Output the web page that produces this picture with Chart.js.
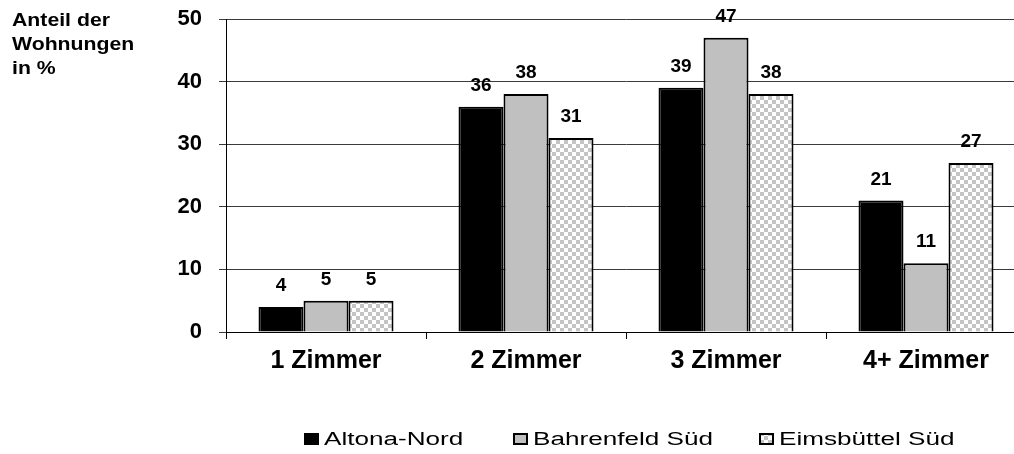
<!DOCTYPE html>
<html lang="de">
<head>
<meta charset="utf-8">
<title>Wohnungsgrößen</title>
<script src="https://cdn.jsdelivr.net/npm/chart.js@4/dist/chart.umd.min.js"></script>
<style>
  html, body { margin: 0; padding: 0; background: #fff; overflow: hidden; }
  #wrap { position: absolute; left: 0; top: 0; width: 1030px; height: 454px; }
</style>
</head>
<body>
<div id="wrap"><canvas id="chart"></canvas></div>
<script>
// Wohnungen nach Zimmerzahl, Anteil in %
const categories = ['1 Zimmer', '2 Zimmer', '3 Zimmer', '4+ Zimmer'];
const seriesNames = ['Altona-Nord', 'Bahrenfeld Süd', 'Eimsbüttel Süd'];
const altonaNord = [4, 36, 39, 21];
const bahrenfeldSued = [5, 38, 47, 11];
const eimsbuettelSued = [5, 31, 38, 27];
const yTicks = [0, 10, 20, 30, 40, 50];
const titleLines = ['Anteil der', 'Wohnungen', 'in %'];

const FONT = "'Liberation Sans', Arial, sans-serif";

// checkered fill for the third series
function checker() {
  const c = document.createElement('canvas');
  c.width = 8; c.height = 8;
  const g = c.getContext('2d');
  g.fillStyle = '#ffffff';
  g.fillRect(0, 0, 8, 8);
  g.fillStyle = '#c4c4c4';
  g.fillRect(0, 0, 4, 4);
  g.fillRect(4, 4, 4, 4);
  return g.createPattern(c, 'repeat');
}
const checkerFill = checker();
const fills = ['#000000', '#c0c0c0', checkerFill];

// axis caption, top left
const captionPlugin = {
  id: 'caption',
  afterDraw(chart) {
    const ctx = chart.ctx;
    ctx.save();
    ctx.fillStyle = '#000';
    ctx.font = 'bold 18px ' + FONT;
    ctx.textBaseline = 'alphabetic';
    ctx.textAlign = 'left';
    titleLines.forEach((t, i) => {
      ctx.save();
      ctx.translate(12, 26 + i * 24);
      ctx.scale(1.18, 1);
      ctx.fillText(t, 0, 0);
      ctx.restore();
    });
    ctx.restore();
  }
};

// value labels above each bar
const valueLabels = {
  id: 'valueLabels',
  afterDatasetsDraw(chart) {
    const ctx = chart.ctx;
    ctx.save();
    ctx.fillStyle = '#000';
    ctx.font = 'bold 19px ' + FONT;
    ctx.textAlign = 'center';
    ctx.textBaseline = 'alphabetic';
    chart.data.datasets.forEach((ds, di) => {
      chart.getDatasetMeta(di).data.forEach((bar, i) => {
        ctx.fillText(String(ds.data[i]), bar.x, bar.y - 16);
      });
    });
    ctx.restore();
  }
};

// legend row below the axis
const legendRow = {
  id: 'legendRow',
  afterDraw(chart) {
    const ctx = chart.ctx;
    const boxX = [304, 513, 759];
    const boxY = 433, boxW = 15, boxH = 12;
    ctx.save();
    chart.data.datasets.forEach((ds, i) => {
      ctx.fillStyle = ds.backgroundColor;
      ctx.fillRect(boxX[i], boxY, boxW, boxH);
      if (i > 0) {
        ctx.lineWidth = 2;
        ctx.strokeStyle = '#000';
        ctx.strokeRect(boxX[i] + 1, boxY + 1, boxW - 2, boxH - 2);
      }
      ctx.save();
      ctx.fillStyle = '#000';
      ctx.font = '18px ' + FONT;
      ctx.textAlign = 'left';
      ctx.textBaseline = 'alphabetic';
      ctx.translate(boxX[i] + boxW + 5, 445);
      ctx.scale(1.45, 1);
      ctx.fillText(ds.label, 0, 0);
      ctx.restore();
    });
    ctx.restore();
  }
};

new Chart(document.getElementById('chart'), {
  type: 'bar',
  data: {
    labels: categories,
    datasets: [altonaNord, bahrenfeldSued, eimsbuettelSued].map((d, i) => ({
      label: seriesNames[i],
      data: d,
      backgroundColor: fills[i],
      borderColor: '#000',
      borderWidth: 2,
      barPercentage: 1.0,
      categoryPercentage: 0.675
    }))
  },
  options: {
    responsive: true,
    maintainAspectRatio: false,
    animation: false,
    layout: { padding: { top: 19, right: 4, bottom: 71, left: 0 } },
    plugins: {
      legend: { display: false },
      tooltip: { enabled: false }
    },
    scales: {
      x: {
        grid: { drawOnChartArea: false, drawTicks: true, tickLength: 7, color: '#000', offset: true },
        border: { display: true, color: '#000', width: 1 },
        ticks: { color: '#000', font: { family: FONT, size: 25, weight: 'bold' }, padding: 7 }
      },
      y: {
        min: 0,
        max: 50,
        afterBuildTicks(scale) { scale.ticks = yTicks.map(v => ({ value: v })); },
        afterFit(scale) {
          scale.width = 226;
          scale.paddingTop = 0;
          scale.paddingBottom = 0;
        },
        grid: { color: '#3a3a3a', lineWidth: 1, tickLength: 7, drawTicks: true },
        border: { display: true, color: '#000', width: 1 },
        ticks: { color: '#000', font: { family: FONT, size: 22, weight: 'bold' }, padding: 17 }
      }
    }
  },
  plugins: [captionPlugin, valueLabels, legendRow]
});
</script>
</body>
</html>
